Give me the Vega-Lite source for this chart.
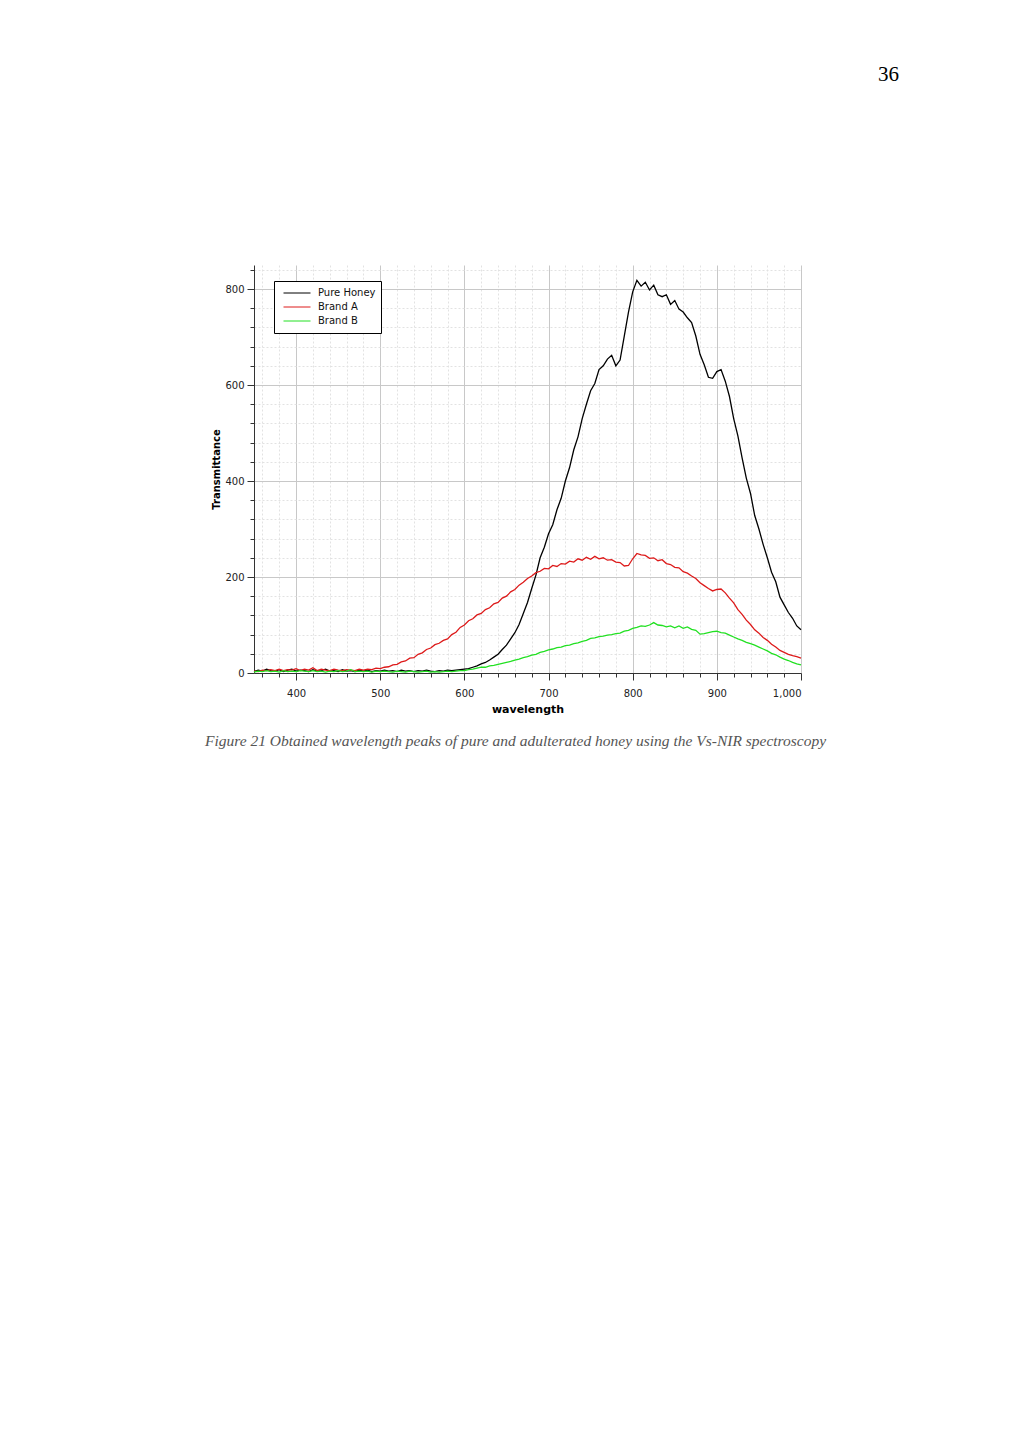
{
  "$schema": "https://vega.github.io/schema/vega-lite/v6.json",
  "width": 547,
  "height": 408,
  "autosize": "none",
  "padding": {"left": 254, "top": 265, "right": 223, "bottom": 774},
  "background": "white",
  "title": {
    "text": "36",
    "orient": "top",
    "anchor": "end",
    "frame": "group",
    "font": "Liberation Serif",
    "fontSize": 21,
    "fontWeight": "normal",
    "color": "#000",
    "offset": 180,
    "dx": 98
  },
  "config": {
    "view": {"stroke": null},
    "axis": {
      "labelFont": "DejaVu Sans",
      "labelFontSize": 10,
      "labelColor": "#222",
      "tickColor": "#333",
      "domainColor": "#333",
      "titleFont": "DejaVu Sans",
      "titleColor": "#000"
    },
    "legend": {
      "orient": "none",
      "legendX": 20,
      "legendY": 16,
      "strokeColor": "#000",
      "fillColor": "#fff",
      "padding": 5,
      "symbolType": "stroke",
      "symbolSize": 729,
      "symbolStrokeWidth": 1,
      "symbolOffset": 4,
      "clipHeight": 14,
      "labelFont": "DejaVu Sans",
      "labelFontSize": 10,
      "labelColor": "#111",
      "labelOffset": 7,
      "rowPadding": 0
    }
  },
  "data": {
    "values": [
      {"w": 350, "Pure Honey": 3, "Brand A": 4, "Brand B": 2},
      {"w": 355, "Pure Honey": 6, "Brand A": 3, "Brand B": 4},
      {"w": 360, "Pure Honey": 4, "Brand A": 6, "Brand B": 3},
      {"w": 365, "Pure Honey": 8, "Brand A": 5, "Brand B": 5},
      {"w": 370, "Pure Honey": 5, "Brand A": 7, "Brand B": 3},
      {"w": 375, "Pure Honey": 4, "Brand A": 5, "Brand B": 4},
      {"w": 380, "Pure Honey": 7, "Brand A": 8, "Brand B": 2},
      {"w": 385, "Pure Honey": 3, "Brand A": 5, "Brand B": 5},
      {"w": 390, "Pure Honey": 6, "Brand A": 7, "Brand B": 3},
      {"w": 395, "Pure Honey": 8, "Brand A": 6, "Brand B": 4},
      {"w": 400, "Pure Honey": 4, "Brand A": 9, "Brand B": 3},
      {"w": 405, "Pure Honey": 6, "Brand A": 5, "Brand B": 5},
      {"w": 410, "Pure Honey": 5, "Brand A": 8, "Brand B": 4},
      {"w": 415, "Pure Honey": 3, "Brand A": 6, "Brand B": 3},
      {"w": 420, "Pure Honey": 7, "Brand A": 11, "Brand B": 5},
      {"w": 425, "Pure Honey": 4, "Brand A": 5, "Brand B": 3},
      {"w": 430, "Pure Honey": 5, "Brand A": 8, "Brand B": 4},
      {"w": 435, "Pure Honey": 8, "Brand A": 6, "Brand B": 2},
      {"w": 440, "Pure Honey": 4, "Brand A": 5, "Brand B": 4},
      {"w": 445, "Pure Honey": 5, "Brand A": 8, "Brand B": 3},
      {"w": 450, "Pure Honey": 3, "Brand A": 6, "Brand B": 5},
      {"w": 455, "Pure Honey": 7, "Brand A": 5, "Brand B": 3},
      {"w": 460, "Pure Honey": 4, "Brand A": 7, "Brand B": 4},
      {"w": 465, "Pure Honey": 5, "Brand A": 6, "Brand B": 7},
      {"w": 470, "Pure Honey": 3, "Brand A": 5, "Brand B": 3},
      {"w": 475, "Pure Honey": 6, "Brand A": 8, "Brand B": 4},
      {"w": 480, "Pure Honey": 4, "Brand A": 6, "Brand B": 3},
      {"w": 485, "Pure Honey": 6, "Brand A": 8, "Brand B": 4},
      {"w": 490, "Pure Honey": 3, "Brand A": 7, "Brand B": 2},
      {"w": 495, "Pure Honey": 5, "Brand A": 10, "Brand B": 4},
      {"w": 500, "Pure Honey": 4, "Brand A": 9, "Brand B": 3},
      {"w": 505, "Pure Honey": 6, "Brand A": 12, "Brand B": 4},
      {"w": 510, "Pure Honey": 4, "Brand A": 13, "Brand B": 3},
      {"w": 515, "Pure Honey": 5, "Brand A": 17, "Brand B": 2},
      {"w": 520, "Pure Honey": 3, "Brand A": 18, "Brand B": 4},
      {"w": 525, "Pure Honey": 6, "Brand A": 23, "Brand B": 3},
      {"w": 530, "Pure Honey": 4, "Brand A": 25, "Brand B": 2},
      {"w": 535, "Pure Honey": 5, "Brand A": 31, "Brand B": 4},
      {"w": 540, "Pure Honey": 3, "Brand A": 32, "Brand B": 3},
      {"w": 545, "Pure Honey": 5, "Brand A": 39, "Brand B": 2},
      {"w": 550, "Pure Honey": 4, "Brand A": 42, "Brand B": 3},
      {"w": 555, "Pure Honey": 6, "Brand A": 49, "Brand B": 4},
      {"w": 560, "Pure Honey": 4, "Brand A": 52, "Brand B": 2},
      {"w": 565, "Pure Honey": 3, "Brand A": 59, "Brand B": 3},
      {"w": 570, "Pure Honey": 5, "Brand A": 62, "Brand B": 2},
      {"w": 575, "Pure Honey": 4, "Brand A": 68, "Brand B": 3},
      {"w": 580, "Pure Honey": 6, "Brand A": 71, "Brand B": 4},
      {"w": 585, "Pure Honey": 5, "Brand A": 80, "Brand B": 3},
      {"w": 590, "Pure Honey": 6, "Brand A": 85, "Brand B": 4},
      {"w": 595, "Pure Honey": 7, "Brand A": 95, "Brand B": 5},
      {"w": 600, "Pure Honey": 8, "Brand A": 100, "Brand B": 5},
      {"w": 605, "Pure Honey": 9, "Brand A": 109, "Brand B": 7},
      {"w": 610, "Pure Honey": 12, "Brand A": 113, "Brand B": 8},
      {"w": 615, "Pure Honey": 15, "Brand A": 121, "Brand B": 10},
      {"w": 620, "Pure Honey": 19, "Brand A": 124, "Brand B": 12},
      {"w": 625, "Pure Honey": 22, "Brand A": 132, "Brand B": 12},
      {"w": 630, "Pure Honey": 27, "Brand A": 136, "Brand B": 15},
      {"w": 635, "Pure Honey": 33, "Brand A": 144, "Brand B": 16},
      {"w": 640, "Pure Honey": 39, "Brand A": 147, "Brand B": 18},
      {"w": 645, "Pure Honey": 49, "Brand A": 156, "Brand B": 20},
      {"w": 650, "Pure Honey": 58, "Brand A": 160, "Brand B": 22},
      {"w": 655, "Pure Honey": 71, "Brand A": 169, "Brand B": 24},
      {"w": 660, "Pure Honey": 84, "Brand A": 174, "Brand B": 27},
      {"w": 665, "Pure Honey": 101, "Brand A": 183, "Brand B": 29},
      {"w": 670, "Pure Honey": 124, "Brand A": 189, "Brand B": 32},
      {"w": 675, "Pure Honey": 147, "Brand A": 197, "Brand B": 34},
      {"w": 680, "Pure Honey": 176, "Brand A": 202, "Brand B": 37},
      {"w": 685, "Pure Honey": 204, "Brand A": 209, "Brand B": 39},
      {"w": 690, "Pure Honey": 240, "Brand A": 212, "Brand B": 43},
      {"w": 695, "Pure Honey": 262, "Brand A": 218, "Brand B": 45},
      {"w": 700, "Pure Honey": 290, "Brand A": 217, "Brand B": 48},
      {"w": 705, "Pure Honey": 309, "Brand A": 224, "Brand B": 50},
      {"w": 710, "Pure Honey": 340, "Brand A": 222, "Brand B": 53},
      {"w": 715, "Pure Honey": 364, "Brand A": 228, "Brand B": 54},
      {"w": 720, "Pure Honey": 400, "Brand A": 227, "Brand B": 57},
      {"w": 725, "Pure Honey": 428, "Brand A": 233, "Brand B": 58},
      {"w": 730, "Pure Honey": 465, "Brand A": 231, "Brand B": 61},
      {"w": 735, "Pure Honey": 492, "Brand A": 238, "Brand B": 63},
      {"w": 740, "Pure Honey": 530, "Brand A": 235, "Brand B": 66},
      {"w": 745, "Pure Honey": 560, "Brand A": 241, "Brand B": 68},
      {"w": 750, "Pure Honey": 588, "Brand A": 237, "Brand B": 72},
      {"w": 755, "Pure Honey": 603, "Brand A": 243, "Brand B": 73},
      {"w": 760, "Pure Honey": 632, "Brand A": 238, "Brand B": 76},
      {"w": 765, "Pure Honey": 640, "Brand A": 240, "Brand B": 77},
      {"w": 770, "Pure Honey": 654, "Brand A": 235, "Brand B": 79},
      {"w": 775, "Pure Honey": 662, "Brand A": 236, "Brand B": 80},
      {"w": 780, "Pure Honey": 640, "Brand A": 231, "Brand B": 82},
      {"w": 785, "Pure Honey": 652, "Brand A": 230, "Brand B": 83},
      {"w": 790, "Pure Honey": 702, "Brand A": 223, "Brand B": 87},
      {"w": 795, "Pure Honey": 752, "Brand A": 224, "Brand B": 89},
      {"w": 800, "Pure Honey": 794, "Brand A": 238, "Brand B": 93},
      {"w": 805, "Pure Honey": 818, "Brand A": 249, "Brand B": 95},
      {"w": 810, "Pure Honey": 806, "Brand A": 246, "Brand B": 98},
      {"w": 815, "Pure Honey": 814, "Brand A": 245, "Brand B": 97},
      {"w": 820, "Pure Honey": 798, "Brand A": 239, "Brand B": 100},
      {"w": 825, "Pure Honey": 808, "Brand A": 240, "Brand B": 105},
      {"w": 830, "Pure Honey": 788, "Brand A": 234, "Brand B": 100},
      {"w": 835, "Pure Honey": 784, "Brand A": 236, "Brand B": 99},
      {"w": 840, "Pure Honey": 788, "Brand A": 228, "Brand B": 96},
      {"w": 845, "Pure Honey": 768, "Brand A": 226, "Brand B": 98},
      {"w": 850, "Pure Honey": 776, "Brand A": 220, "Brand B": 94},
      {"w": 855, "Pure Honey": 758, "Brand A": 219, "Brand B": 98},
      {"w": 860, "Pure Honey": 752, "Brand A": 211, "Brand B": 93},
      {"w": 865, "Pure Honey": 740, "Brand A": 208, "Brand B": 96},
      {"w": 870, "Pure Honey": 730, "Brand A": 202, "Brand B": 91},
      {"w": 875, "Pure Honey": 702, "Brand A": 197, "Brand B": 89},
      {"w": 880, "Pure Honey": 664, "Brand A": 188, "Brand B": 81},
      {"w": 885, "Pure Honey": 642, "Brand A": 182, "Brand B": 82},
      {"w": 890, "Pure Honey": 616, "Brand A": 176, "Brand B": 84},
      {"w": 895, "Pure Honey": 614, "Brand A": 171, "Brand B": 86},
      {"w": 900, "Pure Honey": 628, "Brand A": 174, "Brand B": 87},
      {"w": 905, "Pure Honey": 632, "Brand A": 175, "Brand B": 84},
      {"w": 910, "Pure Honey": 608, "Brand A": 167, "Brand B": 83},
      {"w": 915, "Pure Honey": 576, "Brand A": 156, "Brand B": 79},
      {"w": 920, "Pure Honey": 530, "Brand A": 146, "Brand B": 75},
      {"w": 925, "Pure Honey": 494, "Brand A": 132, "Brand B": 71},
      {"w": 930, "Pure Honey": 448, "Brand A": 122, "Brand B": 68},
      {"w": 935, "Pure Honey": 406, "Brand A": 110, "Brand B": 64},
      {"w": 940, "Pure Honey": 374, "Brand A": 101, "Brand B": 61},
      {"w": 945, "Pure Honey": 328, "Brand A": 90, "Brand B": 58},
      {"w": 950, "Pure Honey": 300, "Brand A": 83, "Brand B": 54},
      {"w": 955, "Pure Honey": 268, "Brand A": 74, "Brand B": 50},
      {"w": 960, "Pure Honey": 240, "Brand A": 68, "Brand B": 46},
      {"w": 965, "Pure Honey": 210, "Brand A": 60, "Brand B": 41},
      {"w": 970, "Pure Honey": 190, "Brand A": 54, "Brand B": 38},
      {"w": 975, "Pure Honey": 158, "Brand A": 47, "Brand B": 33},
      {"w": 980, "Pure Honey": 142, "Brand A": 43, "Brand B": 29},
      {"w": 985, "Pure Honey": 126, "Brand A": 39, "Brand B": 26},
      {"w": 990, "Pure Honey": 114, "Brand A": 36, "Brand B": 22},
      {"w": 995, "Pure Honey": 98, "Brand A": 34, "Brand B": 19},
      {"w": 1000, "Pure Honey": 90, "Brand A": 31, "Brand B": 17}
    ]
  },
  "transform": [
    {"fold": ["Pure Honey", "Brand A", "Brand B"], "as": ["series", "value"]}
  ],
  "layer": [
    {
      "mark": {"type": "line", "strokeOpacity": 0},
      "encoding": {
        "x": {
          "field": "w",
          "type": "quantitative",
          "scale": {"domain": [350, 1000], "nice": false},
          "axis": {
            "orient": "bottom",
            "values": [360, 380, 420, 440, 460, 480, 520, 540, 560, 580, 620, 640, 660, 680, 720, 740, 760, 780, 820, 840, 860, 880, 920, 940, 960, 980],
            "labels": false,
            "domain": false,
            "tickSize": 4,
            "grid": true,
            "gridColor": "#e2e2e2",
            "gridDash": [2, 2],
            "title": "Figure 21 Obtained wavelength peaks of pure and adulterated honey using the Vs-NIR spectroscopy",
            "titleFont": "Liberation Serif",
            "titleFontStyle": "italic",
            "titleFontWeight": "normal",
            "titleFontSize": 15.5,
            "titleColor": "#555",
            "titlePadding": 56,
            "titleX": 261
          }
        },
        "y": {
          "field": "value",
          "type": "quantitative",
          "scale": {"domain": [0, 850], "nice": false},
          "axis": {
            "orient": "left",
            "values": [40, 80, 120, 160, 240, 280, 320, 360, 440, 480, 520, 560, 640, 680, 720, 760, 840],
            "labels": false,
            "domain": false,
            "tickSize": 4,
            "grid": true,
            "gridColor": "#e2e2e2",
            "gridDash": [2, 2],
            "title": null
          }
        },
        "detail": {"field": "series", "type": "nominal"}
      }
    },
    {
      "mark": {"type": "line", "strokeWidth": 1.3},
      "encoding": {
        "x": {
          "field": "w",
          "type": "quantitative",
          "scale": {"domain": [350, 1000], "nice": false},
          "axis": {
            "orient": "bottom",
            "values": [400, 500, 600, 700, 800, 900, 1000],
            "format": ",.0f",
            "tickSize": 7,
            "labelPadding": 8,
            "grid": true,
            "gridColor": "#c8c8c8",
            "title": "wavelength",
            "titleFontSize": 11,
            "titleFontWeight": "bold",
            "titlePadding": 5
          }
        },
        "y": {
          "field": "value",
          "type": "quantitative",
          "scale": {"domain": [0, 850], "nice": false},
          "axis": {
            "orient": "left",
            "values": [0, 200, 400, 600, 800],
            "format": ",.0f",
            "tickSize": 7,
            "labelPadding": 3,
            "grid": true,
            "gridColor": "#c8c8c8",
            "title": "Transmittance",
            "titleFontSize": 10,
            "titleFontWeight": 600,
            "titlePadding": 3
          }
        },
        "color": {
          "field": "series",
          "type": "nominal",
          "scale": {
            "domain": ["Pure Honey", "Brand A", "Brand B"],
            "range": ["#000000", "#dd1a1a", "#22e022"]
          },
          "legend": {"title": null}
        }
      }
    }
  ],
  "resolve": {"axis": {"x": "independent", "y": "independent"}}
}
